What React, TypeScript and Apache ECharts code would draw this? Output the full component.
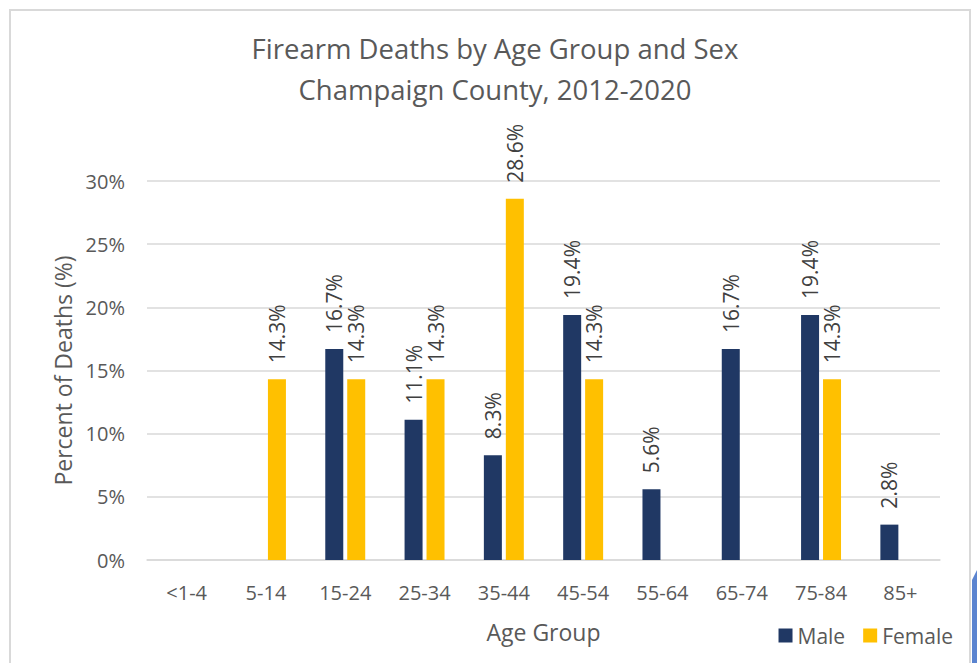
import React, { useEffect, useRef } from "react";
import * as echarts from "echarts";

const categories = ["<1-4", "5-14", "15-24", "25-34", "35-44", "45-54", "55-64", "65-74", "75-84", "85+"];
const maleValues = [null, null, 16.7, 11.1, 8.3, 19.4, 5.6, 16.7, 19.4, 2.8];
const femaleValues = [null, 14.3, 14.3, 14.3, 28.6, 14.3, null, null, 14.3, null];
const yTicks = [0, 5, 10, 15, 20, 25, 30];

const FONT = "'Open Sans', 'Noto Sans', sans-serif";
const GRAY = "#595959";

export default function App() {
  const ref = useRef<HTMLDivElement>(null);
  useEffect(() => {
    document.body.style.margin = "0";
    const chart = echarts.init(ref.current!, undefined, { renderer: "svg" });
    const labelCfg = {
      show: true,
      position: "top" as const,
      rotate: 90,
      align: "left" as const,
      verticalAlign: "middle" as const,
      distance: 16,
      fontSize: 21,
      fontFamily: FONT,
      color: "#404040",
      formatter: (p: any) => Number(p.value).toFixed(1) + "%",
    };
    chart.setOption({
      animation: false,
      backgroundColor: "#ffffff",
      title: {
        text: "Firearm Deaths by Age Group and Sex\nChampaign County, 2012-2020",
        left: 490,
        textAlign: "center",
        top: 23,
        textStyle: { fontSize: 27.5, fontWeight: "normal", color: GRAY, fontFamily: FONT, lineHeight: 41 },
      },
      legend: {
        right: 19,
        top: 620,
        itemWidth: 14,
        itemHeight: 14,
        itemGap: 18,
        icon: "rect",
        textStyle: { fontSize: 21, color: GRAY, fontFamily: FONT },
        data: ["Male", "Female"],
      },
      grid: { left: 147, right: 37, top: 181, bottom: 103, containLabel: false },
      xAxis: {
        type: "category",
        data: categories,
        name: "Age Group",
        nameLocation: "middle",
        nameGap: 60,
        nameTextStyle: { fontSize: 23, color: GRAY, fontFamily: FONT },
        axisLine: { lineStyle: { color: "#d9d9d9", width: 1.5 } },
        axisTick: { show: false },
        axisLabel: { fontSize: 20, color: GRAY, fontFamily: FONT, margin: 22 },
      },
      yAxis: {
        type: "value",
        min: yTicks[0],
        max: yTicks[yTicks.length - 1],
        interval: 5,
        name: "Percent of Deaths (%)",
        nameLocation: "middle",
        nameGap: 73,
        nameTextStyle: { fontSize: 23, color: GRAY, fontFamily: FONT },
        axisLine: { show: false },
        axisTick: { show: false },
        axisLabel: { fontSize: 20, color: GRAY, fontFamily: FONT, margin: 22, formatter: "{value}%" },
        splitLine: { lineStyle: { color: "#d9d9d9", width: 1.5 } },
      },
      series: [
        {
          name: "Male",
          type: "bar",
          data: maleValues,
          barWidth: 18,
          barGap: "22%",
          itemStyle: { color: "#203864" },
          label: labelCfg,
        },
        {
          name: "Female",
          type: "bar",
          data: femaleValues,
          barWidth: 18,
          itemStyle: { color: "#FFC000" },
          label: labelCfg,
        },
      ],
      graphic: [
        {
          type: "rect",
          shape: { x: 10, y: 10, width: 960, height: 700 },
          style: { fill: "none", stroke: "#d9d9d9", lineWidth: 2 },
          silent: true,
        },
        {
          type: "polygon",
          shape: { points: [[972, 580], [977, 570], [977, 663], [972, 663]] },
          style: { fill: "#5b84d0" },
          silent: true,
        },
      ],
    });
    return () => chart.dispose();
  }, []);
  return <div ref={ref} style={{ width: 977, height: 663 }} />;
}
